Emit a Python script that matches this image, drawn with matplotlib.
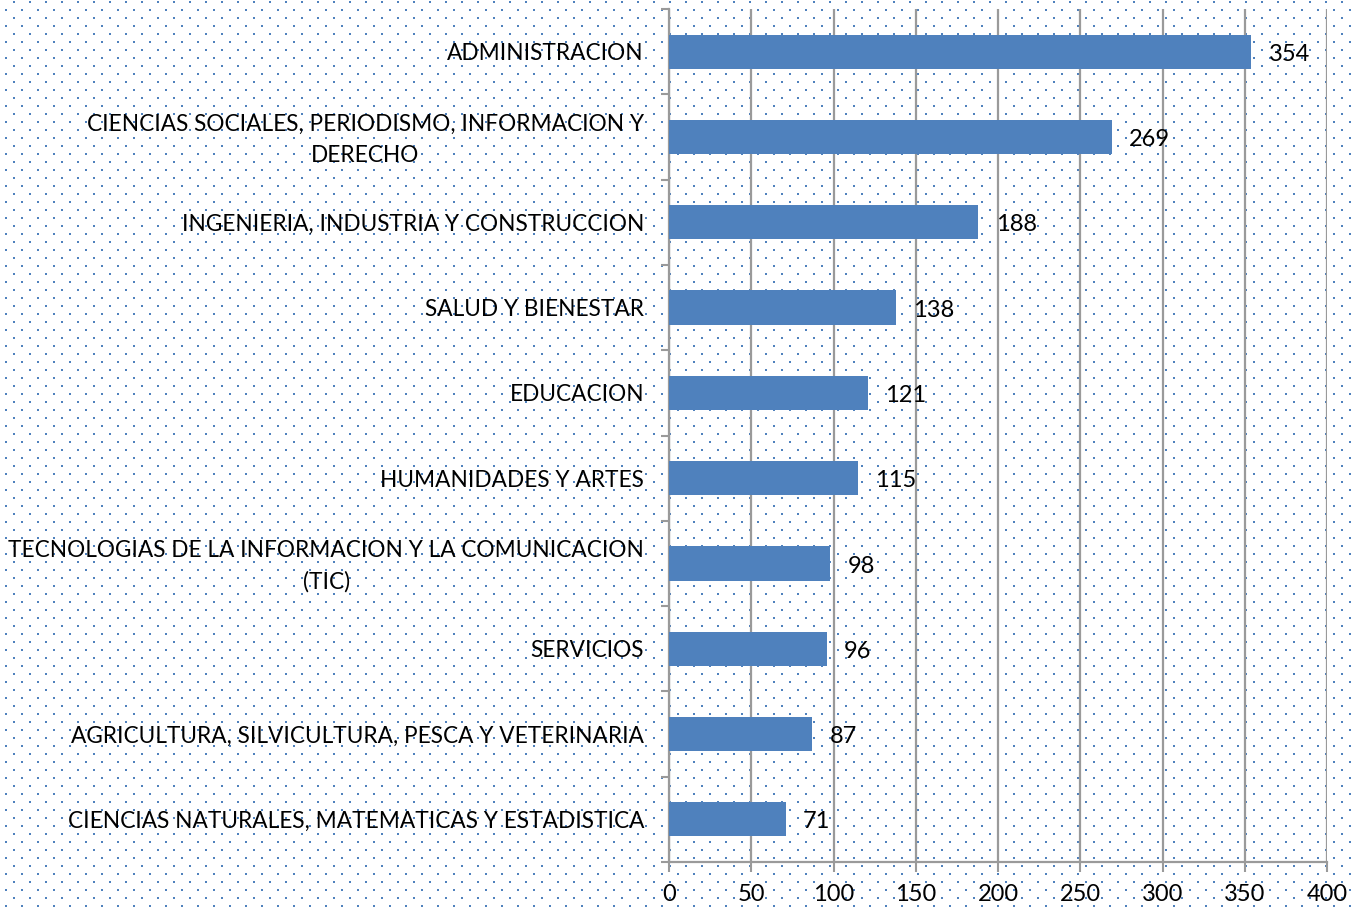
import numpy as np
import matplotlib.pyplot as plt
import matplotlib.transforms as mtransforms
from matplotlib.ticker import FixedLocator

categories = [
    "ADMINISTRACION",
    "CIENCIAS SOCIALES, PERIODISMO, INFORMACION Y\nDERECHO",
    "INGENIERIA, INDUSTRIA Y CONSTRUCCION",
    "SALUD Y BIENESTAR",
    "EDUCACION",
    "HUMANIDADES Y ARTES",
    "TECNOLOGIAS DE LA INFORMACION Y LA COMUNICACION\n(TIC)",
    "SERVICIOS",
    "AGRICULTURA, SILVICULTURA, PESCA Y VETERINARIA",
    "CIENCIAS NATURALES, MATEMATICAS Y ESTADISTICA",
]
values = [354, 269, 188, 138, 121, 115, 98, 96, 87, 71]
xticks = [0, 50, 100, 150, 200, 250, 300, 350, 400]

BLUE = "#4F81BD"
GRAY = "#9A9A9A"
plt.rcParams["font.family"] = ["Lato", "DejaVu Sans"]

W, H = 1352, 909
fig = plt.figure(figsize=(W / 100, H / 100), dpi=100)

# dotted background pattern
bg = np.ones((H, W, 3))
dot = np.array([0x4F, 0x81, 0xBD]) / 255
for r, y in enumerate(range(3, H, 8)):
    x0 = 5 if r % 2 == 0 else 13
    for x in range(x0, W, 16):
        bg[H - 1 - y:H + 1 - y, x:x + 2] = dot
fig.figimage(bg, 0, 0, zorder=-10)

ax = fig.add_axes([669 / W, 1 - 862 / H, (1327 - 669) / W, (862 - 9) / H])
ax.set_facecolor("none")

y = np.arange(len(categories))
ax.barh(y, values, height=0.4, color=BLUE, zorder=3)
for yi, v in zip(y, values):
    ax.text(v + 10.5, yi + 0.03, str(v), va="center", ha="left", fontsize=17, zorder=4)

ax.set_xlim(0, 400)
ax.set_ylim(len(categories) - 0.5, -0.5)
ax.set_xticks(xticks)
ax.set_xticklabels([str(t) for t in xticks], fontsize=17)
ax.set_yticks(y)
ax.set_yticklabels(categories, fontsize=16.3, multialignment="center", linespacing=1.6)
ax.yaxis.set_minor_locator(FixedLocator(np.arange(-0.5, len(categories), 1.0)))

ax.tick_params(axis="y", which="major", length=0, pad=18)
ax.tick_params(axis="y", which="minor", length=6, color=GRAY, width=1.5)
ax.tick_params(axis="x", which="major", length=7, color=GRAY, width=1.5, pad=9)

# nudge the two-line labels up a little
up = mtransforms.ScaledTranslation(0, 4.5 / 100, fig.dpi_scale_trans)
for lab in ax.get_yticklabels():
    if "\n" in lab.get_text():
        lab.set_transform(lab.get_transform() + up)

ax.grid(axis="x", color=GRAY, linewidth=1.6, zorder=1)
ax.spines["top"].set_visible(False)
ax.spines["right"].set_visible(False)
for s in ["left", "bottom"]:
    ax.spines[s].set_color(GRAY)
    ax.spines[s].set_linewidth(1.6)

fig.savefig("out.png", dpi=100)
